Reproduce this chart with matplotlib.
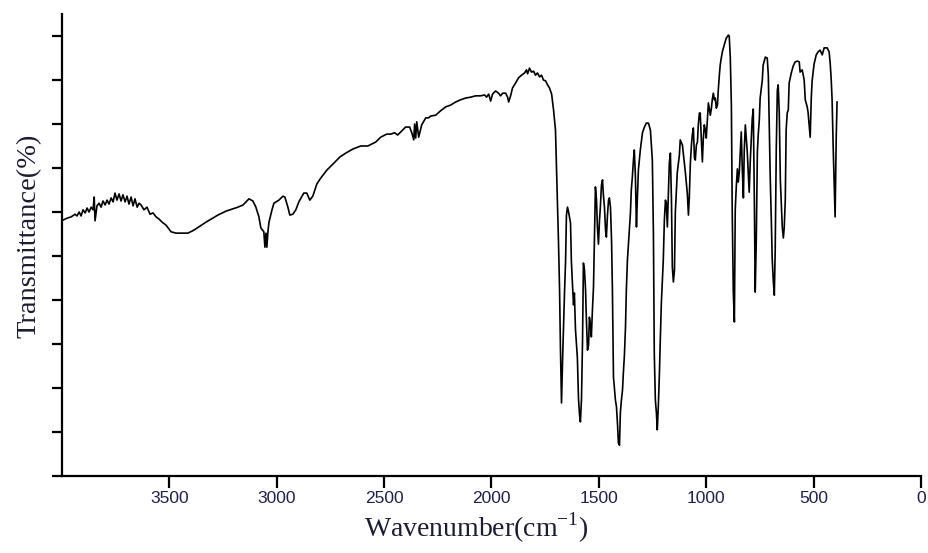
import matplotlib
matplotlib.use("Agg")
import matplotlib.pyplot as plt

plt.rcParams['mathtext.fontset'] = 'custom'
plt.rcParams['mathtext.rm'] = 'Liberation Serif'

# FTIR spectrum: wavenumber (cm-1) and transmittance (%)
wavenumber = [
    3994, 3976, 3957, 3939, 3930, 3920, 3911, 3902, 3892, 3883, 3874, 3864, 3855, 3850, 3846,
    3837, 3827, 3818, 3809, 3799, 3790, 3781, 3771, 3762, 3753, 3744, 3734, 3725, 3716, 3706,
    3697, 3688, 3678, 3669, 3660, 3650, 3641, 3632, 3618, 3604, 3590, 3576, 3562, 3548, 3534,
    3515, 3492, 3469, 3413, 3385, 3329, 3274, 3236, 3181, 3157, 3129, 3111, 3097, 3083, 3074,
    3060, 3055, 3050, 3046, 3041, 3036, 3022, 3013, 2990, 2971, 2962, 2948, 2939, 2925, 2911,
    2897, 2874, 2860, 2846, 2832, 2813, 2795, 2767, 2734, 2706, 2678, 2646, 2609, 2576, 2539,
    2516, 2488, 2469, 2451, 2437, 2418, 2400, 2381, 2371, 2362, 2358, 2353, 2348, 2339, 2325,
    2306, 2293, 2283, 2260, 2237, 2213, 2190, 2167, 2144, 2120, 2097, 2074, 2051, 2032, 2023,
    2013, 2004, 1995, 1981, 1967, 1958, 1948, 1934, 1925, 1920, 1911, 1902, 1888, 1874, 1860,
    1846, 1837, 1832, 1823, 1814, 1804, 1795, 1786, 1776, 1767, 1758, 1748, 1739, 1730, 1720,
    1711, 1702, 1697, 1693, 1688, 1683, 1679, 1674, 1669, 1665, 1660, 1655, 1651, 1646, 1641,
    1632, 1628, 1623, 1618, 1614, 1609, 1604, 1600, 1595, 1590, 1586, 1581, 1576, 1572, 1567,
    1562, 1558, 1553, 1548, 1544, 1539, 1535, 1530, 1525, 1521, 1516, 1511, 1507, 1502, 1497,
    1493, 1488, 1483, 1479, 1474, 1469, 1465, 1460, 1455, 1451, 1446, 1441, 1437, 1432, 1427,
    1423, 1418, 1413, 1409, 1404, 1400, 1395, 1390, 1386, 1381, 1376, 1372, 1367, 1358, 1353,
    1349, 1344, 1339, 1335, 1330, 1325, 1321, 1316, 1307, 1297, 1288, 1279, 1269, 1260, 1251,
    1246, 1242, 1237, 1232, 1228, 1223, 1218, 1214, 1209, 1204, 1200, 1195, 1190, 1186, 1181,
    1176, 1172, 1167, 1162, 1158, 1153, 1148, 1144, 1139, 1135, 1125, 1121, 1111, 1107, 1097,
    1088, 1083, 1079, 1074, 1069, 1065, 1060, 1055, 1051, 1046, 1041, 1037, 1032, 1028, 1023,
    1018, 1014, 1009, 1004, 1000, 995, 990, 986, 981, 976, 972, 967, 962, 958, 953,
    948, 944, 939, 935, 930, 925, 916, 907, 897, 893, 888, 883, 879, 874, 869,
    865, 860, 855, 851, 846, 841, 837, 832, 827, 823, 818, 813, 809, 804, 800,
    795, 790, 786, 781, 776, 772, 767, 762, 758, 753, 749, 739, 735, 725, 716,
    711, 707, 702, 697, 693, 688, 683, 679, 674, 669, 665, 660, 655, 651, 646,
    641, 637, 632, 628, 623, 618, 614, 604, 595, 586, 576, 567, 563, 553, 544,
    539, 530, 526, 521, 516, 511, 507, 498, 488, 479, 470, 460, 451, 437, 428,
    423, 418, 414, 409, 404, 400, 395, 391,
]
transmittance = [
    58.2, 58.6, 58.9, 59.5, 59.1, 60.0, 59.1, 60.5, 59.8, 60.9, 60.0, 61.1, 60.5, 63.4, 58.0,
    61.4, 62.0, 61.1, 62.5, 61.6, 62.7, 61.8, 63.2, 62.3, 64.3, 62.7, 64.1, 62.5, 63.9, 62.3,
    63.6, 61.8, 63.4, 61.4, 63.0, 61.1, 62.0, 61.6, 60.5, 61.1, 59.5, 59.8, 58.9, 58.4, 57.7,
    57.0, 55.5, 55.2, 55.2, 55.9, 57.7, 59.3, 60.2, 61.1, 61.6, 63.0, 62.5, 61.1, 58.9, 56.4,
    55.5, 52.0, 55.2, 52.0, 55.5, 57.7, 60.5, 62.0, 62.7, 63.6, 63.4, 61.1, 59.3, 59.5, 60.5,
    62.3, 64.3, 64.3, 62.7, 63.6, 66.4, 67.7, 69.5, 71.1, 72.5, 73.4, 74.3, 75.0, 75.0, 75.9,
    77.0, 77.7, 77.7, 78.0, 77.5, 78.4, 79.3, 79.3, 78.0, 76.4, 80.0, 76.8, 80.5, 77.0, 79.8,
    81.4, 81.4, 81.8, 82.0, 83.0, 83.9, 84.3, 85.0, 85.5, 85.9, 86.1, 86.4, 86.4, 86.6, 86.1,
    86.8, 85.2, 86.8, 87.5, 87.0, 86.4, 87.0, 87.0, 86.1, 85.0, 86.4, 88.2, 89.3, 90.5, 91.1,
    91.6, 92.3, 91.4, 92.7, 91.8, 92.0, 91.1, 91.6, 90.7, 91.1, 90.0, 89.8, 88.9, 88.2, 86.8,
    83.2, 78.6, 69.5, 62.7, 53.2, 42.3, 29.3, 16.6, 26.4, 33.2, 41.6, 48.9, 59.3, 61.1, 60.0,
    57.5, 48.9, 43.6, 38.9, 41.6, 33.4, 29.8, 26.8, 17.7, 13.9, 12.3, 17.3, 30.9, 48.4, 46.8,
    42.3, 35.5, 28.6, 29.8, 36.1, 34.3, 31.6, 37.7, 43.0, 53.6, 65.7, 62.7, 56.8, 52.7, 58.2,
    61.1, 66.1, 67.3, 63.9, 61.1, 55.9, 54.3, 59.3, 62.7, 63.2, 61.1, 53.6, 42.5, 22.5, 19.5,
    17.3, 15.7, 11.6, 7.5, 7.0, 14.3, 17.3, 19.5, 23.4, 27.5, 33.9, 42.3, 49.1, 55.9, 59.8,
    65.0, 68.0, 71.8, 74.1, 68.4, 56.6, 62.7, 69.5, 74.1, 78.0, 79.3, 80.2, 80.2, 78.6, 71.8,
    55.2, 28.0, 17.3, 14.3, 10.5, 16.1, 23.4, 30.9, 39.3, 44.5, 49.1, 58.2, 62.7, 62.0, 56.6,
    65.0, 71.1, 73.4, 62.7, 47.5, 44.1, 46.8, 59.8, 65.0, 68.9, 73.0, 76.4, 75.2, 73.4, 68.9,
    64.1, 59.3, 63.2, 71.1, 75.2, 77.5, 79.1, 72.3, 71.8, 75.2, 75.9, 79.8, 82.5, 82.5, 76.6,
    71.4, 76.4, 79.8, 78.6, 76.8, 80.9, 84.8, 83.6, 82.0, 83.6, 85.5, 87.0, 85.5, 85.9, 83.6,
    84.3, 87.7, 91.1, 93.4, 95.0, 96.4, 98.0, 99.5, 100.2, 100.0, 95.0, 84.3, 60.0, 41.8, 35.0,
    60.5, 65.9, 69.8, 66.8, 69.1, 74.1, 78.2, 69.5, 63.2, 74.1, 79.8, 76.4, 73.6, 68.4, 64.5,
    71.6, 76.6, 81.1, 83.4, 62.5, 41.8, 53.6, 73.6, 77.5, 80.9, 85.9, 90.0, 93.4, 95.2, 95.0,
    91.1, 80.9, 67.7, 58.2, 49.5, 44.5, 41.1, 51.1, 74.1, 87.7, 88.9, 82.5, 67.3, 62.7, 56.6,
    54.1, 56.4, 62.7, 78.6, 82.5, 83.2, 89.3, 91.6, 93.2, 94.1, 94.3, 94.1, 91.8, 92.3, 90.0,
    85.5, 83.9, 82.7, 79.8, 77.0, 85.9, 89.8, 93.6, 95.7, 96.4, 96.8, 95.7, 97.3, 97.3, 96.4,
    93.9, 90.0, 85.5, 74.8, 66.1, 58.9, 76.4, 85.0,
]
x_ticks = [3500, 3000, 2500, 2000, 1500, 1000, 500, 0]
y_ticks = [0, 10, 20, 30, 40, 50, 60, 70, 80, 90, 100]

fig = plt.figure(figsize=(9.29, 5.53), dpi=100)
ax = fig.add_axes([0.0667, 0.1392, 0.9247, 0.8355])

ax.plot(wavenumber, transmittance, color='black', linewidth=1.2)

ax.set_xlim(4000, 0)
ax.set_ylim(0, 105)
ax.set_xticks(x_ticks)
ax.set_xticklabels([str(t) for t in x_ticks], family='Liberation Sans',
                   fontsize=12.5, color='#202048')
ax.set_yticks(y_ticks)
ax.set_yticklabels([])

for s in ['top', 'right']:
    ax.spines[s].set_visible(False)
for s in ['left', 'bottom']:
    ax.spines[s].set_linewidth(1.6)
ax.tick_params(axis='x', direction='out', length=8.5, width=1.6, pad=2.5)
ax.tick_params(axis='y', direction='out', length=7, width=1.6)

ax.set_xlabel(r'Wavenumber(cm$^{\mathregular{-1}}$)', family='Liberation Serif',
              fontsize=20, color='#1c1c30')
ax.xaxis.set_label_coords(0.482, -0.074)
ax.set_ylabel('Transmittance(%)', family='Liberation Serif', fontsize=20.5,
              color='#1c1c30')
ax.yaxis.set_label_coords(-0.024, 0.52)

fig.savefig('out.png', dpi=100)
